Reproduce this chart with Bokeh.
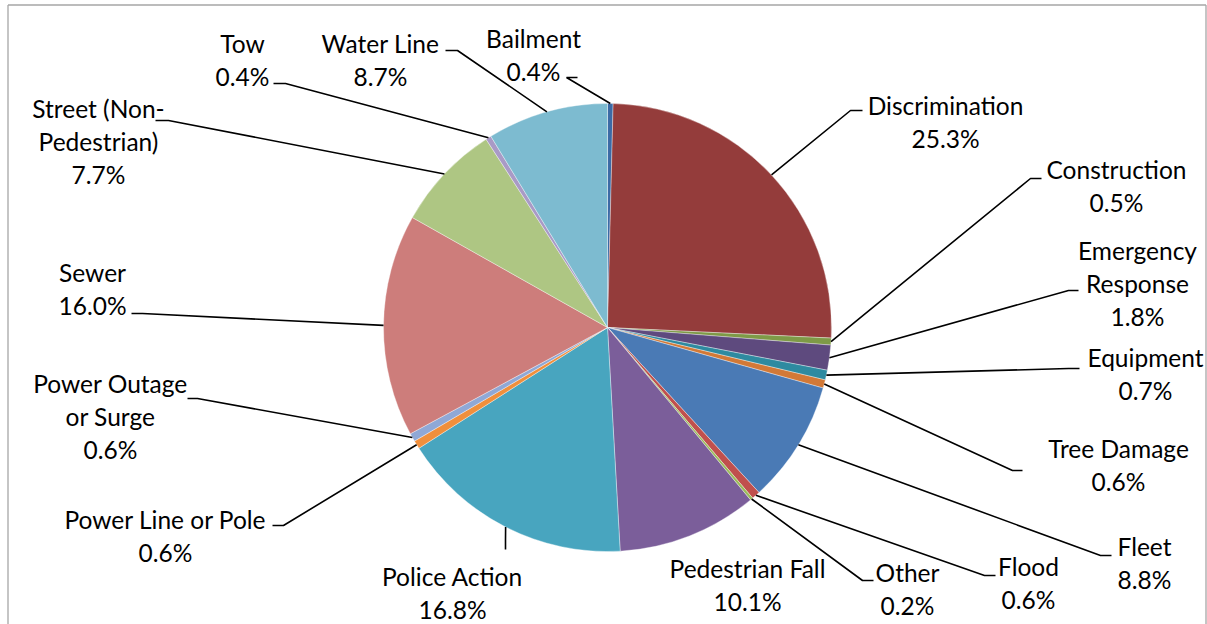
import math
from bokeh.plotting import figure
from bokeh.models import Range1d
from bokeh.core.properties import value
from bokeh.embed import file_html
from bokeh.resources import INLINE

# ---------------- data ----------------
categories = ["Bailment", "Discrimination", "Construction", "Emergency Response",
              "Equipment", "Tree Damage", "Fleet", "Flood", "Other",
              "Pedestrian Fall", "Police Action", "Power Line or Pole",
              "Power Outage or Surge", "Sewer", "Street (Non-Pedestrian)",
              "Tow", "Water Line"]
shares = [0.4, 25.3, 0.5, 1.8, 0.7, 0.6, 8.8, 0.6, 0.2, 10.1, 16.8, 0.6, 0.6,
          16.0, 7.7, 0.4, 8.7]
colors = ["#3C6AA5", "#943C3B", "#7E9A47", "#5E4A7E", "#2E8AA0", "#D27937",
          "#4A7AB5", "#C0504D", "#9BBB59", "#7B5E9A", "#48A5BF", "#F08F3C",
          "#8FA8D6", "#CD7D7B", "#AEC683", "#A99AC6", "#7DBBD0"]
# how each category name is wrapped in its label
name_lines = [["Bailment"], ["Discrimination"], ["Construction"],
              ["Emergency", "Response"], ["Equipment"], ["Tree Damage"],
              ["Fleet"], ["Flood"], ["Other"], ["Pedestrian Fall"],
              ["Police Action"], ["Power Line or Pole"],
              ["Power Outage", "or Surge"], ["Sewer"],
              ["Street (Non-", "Pedestrian)"], ["Tow"], ["Water Line"]]

# ---------------- layout (page pixels) ----------------
W, H = 1207, 624
CX, CY, R = 607, 327, 224
LINE_H = 33
# label centre x, first line y, leader start points (far end, elbow) or None
label_layout = [
    (533, 38, [(577, 77), (566, 77)]),
    (945, 105, [(862, 110), (850, 110)]),
    (1116, 169, [(1041, 178), (1030, 178)]),
    (1137, 250, [(1078, 290), (1068, 290)]),
    (1145, 357, [(1079, 368), (1068, 368)]),
    (1118, 448, [(1022, 470), (1012, 470)]),
    (1144, 546, [(1111, 555), (1100, 555)]),
    (1028, 566, [(995, 575), (984, 575)]),
    (907, 572, [(873, 580), (862, 580)]),
    (747, 568, None),
    (452, 576, [(505, 549), (505, 540)]),
    (165, 519, [(272, 525), (283, 525)]),
    (110, 383, [(187, 398), (197, 398)]),
    (92, 272, [(131, 313), (142, 313)]),
    (98, 108, [(155, 120), (168, 120)]),
    (242, 43, [(273, 83), (285, 83)]),
    (380, 43, [(445, 50), (457, 50)]),
]

FONT = "Lato"
FONT_SIZE = "24.5px"

p = figure(width=W, height=H, output_backend="svg", toolbar_location=None,
           x_range=Range1d(0, W), y_range=Range1d(-H, 0),
           min_border=0, min_border_left=0, min_border_right=0,
           min_border_top=0, min_border_bottom=0)
p.axis.visible = False
p.grid.visible = False
p.outline_line_color = None
p.background_fill_color = "white"

# border of the chart area (left, top, right)
p.segment(x0=[7.5, 7.5, 1205.5], y0=[-H, -4.5, -4.5],
          x1=[7.5, 1205.5, 1205.5], y1=[-4.5, -4.5, -H],
          line_color="#A6A6A6", line_width=1.3)

total = sum(shares)
cum = 0.0
starts, ends, mids = [], [], []
for s in shares:
    a0 = cum / total * 2 * math.pi
    cum += s
    a1 = cum / total * 2 * math.pi
    starts.append(math.pi / 2 - a0)
    ends.append(math.pi / 2 - a1)
    mids.append((a0 + a1) / 2)

p.wedge(x=[CX] * len(shares), y=[-CY] * len(shares), radius=R,
        start_angle=starts, end_angle=ends, direction="clock",
        fill_color=colors, line_color="white", line_width=0.6, line_alpha=0.6)

# leader lines
xs, ys = [], []
for (cxl, y0, lead), m in zip(label_layout, mids):
    if lead is None:
        continue
    px = CX + R * math.sin(m)
    py = CY - R * math.cos(m)
    pts = list(lead) + [(px, py)]
    xs.append([q[0] for q in pts])
    ys.append([-q[1] for q in pts])
p.multi_line(xs=xs, ys=ys, line_color="black", line_width=1.6)

# labels
tx, ty, tt = [], [], []
for name, s, (cxl, y0, lead) in zip(name_lines, shares, label_layout):
    lines = list(name) + [f"{s:.1f}%"]
    for i, t in enumerate(lines):
        tx.append(cxl)
        ty.append(-(y0 + i * LINE_H))
        tt.append(t)
p.text(x=tx, y=ty, text=tt, text_font=value(FONT), text_font_size=FONT_SIZE,
       text_align="center", text_baseline="middle", text_color="black")

open("out.html", "w").write(file_html(p, INLINE))
